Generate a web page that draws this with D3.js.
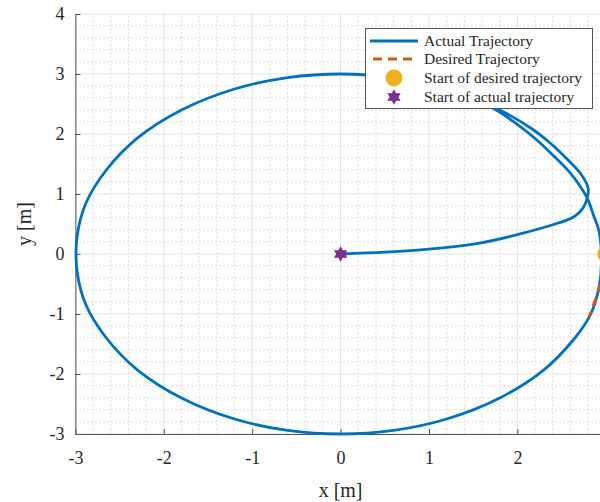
<!doctype html>
<html lang="en">
<head>
<meta charset="UTF-8">
<title>Trajectory</title>
<script src="https://d3js.org/d3.v7.min.js"></script>
<style>
  body { margin: 0; background: #fff; }
  text { font-family: "Liberation Serif", "DejaVu Serif", serif; fill: #262626; }
</style>
</head>
<body>
<div id="chart"></div>
<script>
// Actual trajectory
const actualX = [0, 0.5, 1.0, 1.57, 2.02, 2.47, 2.64, 2.74, 2.79, 2.80, 2.71, 2.55, 2.37, 2.15, 1.76,
  1.2, 0.6, 0, -0.6, -1.2, -1.8, -2.3, -2.65, -2.88, -2.98, -2.98, -2.88, -2.65, -2.3, -1.8, -1.2, -0.6,
  0, 0.6, 1.2, 1.8, 2.3, 2.65, 2.83, 2.93, 2.95, 2.92, 2.86, 2.79, 2.70, 2.58, 2.42, 2.22, 1.98, 1.76, 1.45];
const actualY = [0, 0.03, 0.08, 0.18, 0.33, 0.52, 0.62, 0.76, 0.93, 1.10, 1.35, 1.60, 1.85, 2.10, 2.43,
  2.75, 2.94, 3, 2.94, 2.75, 2.4, 1.93, 1.4, 0.85, 0.3, -0.3, -0.85, -1.4, -1.93, -2.4, -2.75, -2.94,
  -3, -2.94, -2.75, -2.4, -1.93, -1.4, -1.0, -0.5, 0, 0.4, 0.65, 0.93, 1.15, 1.38, 1.62, 1.90, 2.18, 2.40, 2.62];

// Desired trajectory (visible part)
const desiredX = [3, 2.96, 2.92, 2.86, 2.81];
const desiredY = [0, -0.4, -0.6, -0.85, -1.05];

const startDesired = [3, 0];
const startActual = [0, 0];

const xTicks = [-3, -2, -1, 0, 1, 2, 3];
const yTicks = [-3, -2, -1, 0, 1, 2, 3, 4];
const legendLabels = ['Actual Trajectory', 'Desired Trajectory', 'Start of desired trajectory', 'Start of actual trajectory'];

const W = 600, H = 502;
const blue = '#0072BD', orange = '#D95319', yellow = '#EDB120', purple = '#7E2F8E';

const x = d3.scaleLinear().domain([-3, 3]).range([75.4, 605.8]);
const y = d3.scaleLinear().domain([-3, 4]).range([434, 14]);

const svg = d3.select('#chart').append('svg')
    .attr('width', W)
    .attr('height', H);

// minor grid
const minorX = d3.range(-3, 3.001, 0.2).filter(v => Math.abs(v - Math.round(v)) > 0.01);
const minorY = d3.range(-3, 4.001, 0.2).filter(v => Math.abs(v - Math.round(v)) > 0.01);
svg.append('g').selectAll('line').data(minorX).join('line')
    .attr('x1', d => x(d)).attr('x2', d => x(d))
    .attr('y1', y(-3)).attr('y2', y(4))
    .attr('stroke', '#d4d4d4').attr('stroke-width', 1).attr('stroke-dasharray', '1.5,2.5');
svg.append('g').selectAll('line').data(minorY).join('line')
    .attr('y1', d => y(d)).attr('y2', d => y(d))
    .attr('x1', x(-3)).attr('x2', x(3))
    .attr('stroke', '#d4d4d4').attr('stroke-width', 1).attr('stroke-dasharray', '1.5,2.5');

// major grid
svg.append('g').selectAll('line').data(xTicks).join('line')
    .attr('x1', d => x(d)).attr('x2', d => x(d))
    .attr('y1', y(-3)).attr('y2', y(4))
    .attr('stroke', '#e3e3e3').attr('stroke-width', 1);
svg.append('g').selectAll('line').data(yTicks).join('line')
    .attr('y1', d => y(d)).attr('y2', d => y(d))
    .attr('x1', x(-3)).attr('x2', x(3))
    .attr('stroke', '#e3e3e3').attr('stroke-width', 1);

// axes
const xAxis = svg.append('g')
    .attr('transform', `translate(0,${y(-3)})`)
    .call(d3.axisBottom(x).tickValues(xTicks).tickSizeInner(-5).tickSizeOuter(0).tickPadding(17).tickFormat(d3.format('d')));
const yAxis = svg.append('g')
    .attr('transform', `translate(${x(-3)},0)`)
    .call(d3.axisLeft(y).tickValues(yTicks).tickSizeInner(-5).tickSizeOuter(0).tickPadding(11).tickFormat(d3.format('d')));
[xAxis, yAxis].forEach(a => {
  a.select('.domain').attr('stroke', '#555').attr('stroke-width', 1);
  a.selectAll('.tick line').attr('stroke', '#555');
  a.selectAll('.tick text').attr('font-size', 18).attr('font-family', '"Liberation Serif", serif').attr('fill', '#262626')
      .text(d => d < 0 ? '-' + Math.abs(d) : d);
});

// axis labels
svg.append('text')
    .attr('x', x(0)).attr('y', 497)
    .attr('text-anchor', 'middle')
    .attr('font-size', 20)
    .text('x [m]');
svg.append('text')
    .attr('transform', `translate(31,${y(0.5)}) rotate(-90)`)
    .attr('text-anchor', 'middle')
    .attr('font-size', 20)
    .text('y [m]');

// lines
const line = d3.line()
    .x(d => x(d[0]))
    .y(d => y(d[1]))
    .curve(d3.curveCatmullRom.alpha(0.5));

svg.append('path')
    .datum(actualX.map((v, i) => [v, actualY[i]]))
    .attr('fill', 'none')
    .attr('stroke', blue)
    .attr('stroke-width', 2.8)
    .attr('d', line);

svg.append('path')
    .datum(desiredX.map((v, i) => [v, desiredY[i]]))
    .attr('fill', 'none')
    .attr('stroke', orange)
    .attr('stroke-width', 2.8)
    .attr('stroke-dasharray', '9,6')
    .attr('d', line);

// markers
function hexagram(r) {
  const pts = d3.range(12).map(i => {
    const a = Math.PI / 2 + i * Math.PI / 6;
    const rr = i % 2 === 0 ? r : r / Math.sqrt(3);
    return [rr * Math.cos(a), -rr * Math.sin(a)];
  });
  return 'M' + pts.map(p => p.join(',')).join('L') + 'Z';
}

svg.append('circle')
    .attr('cx', x(startDesired[0])).attr('cy', y(startDesired[1]))
    .attr('r', 8.5).attr('fill', yellow);

svg.append('path')
    .attr('transform', `translate(${x(startActual[0])},${y(startActual[1])})`)
    .attr('d', hexagram(6.5))
    .attr('fill', purple).attr('stroke', purple).attr('stroke-width', 1.2);

// legend
const lg = svg.append('g');
lg.append('rect')
    .attr('x', 365.5).attr('y', 28.5).attr('width', 227).attr('height', 80)
    .attr('fill', '#fff').attr('stroke', '#555').attr('stroke-width', 1);
const rowY = [41, 59, 78, 97];
legendLabels.forEach((t, i) => {
  lg.append('text')
      .attr('x', 424).attr('y', rowY[i])
      .attr('dy', '0.33em')
      .attr('font-size', 15.5)
      .text(t);
});
lg.append('line').attr('x1', 370).attr('x2', 418).attr('y1', rowY[0]).attr('y2', rowY[0])
    .attr('stroke', blue).attr('stroke-width', 2.8);
lg.append('line').attr('x1', 370).attr('x2', 418).attr('y1', rowY[1]).attr('y2', rowY[1])
    .attr('stroke', orange).attr('stroke-width', 2.8).attr('stroke-dasharray', '9,6').attr('stroke-dashoffset', -3);
lg.append('circle').attr('cx', 394).attr('cy', rowY[2]).attr('r', 8.5).attr('fill', yellow);
lg.append('path').attr('transform', `translate(394,${rowY[3]})`)
    .attr('d', hexagram(6.5)).attr('fill', purple).attr('stroke', purple).attr('stroke-width', 1.2);
</script>
</body>
</html>
